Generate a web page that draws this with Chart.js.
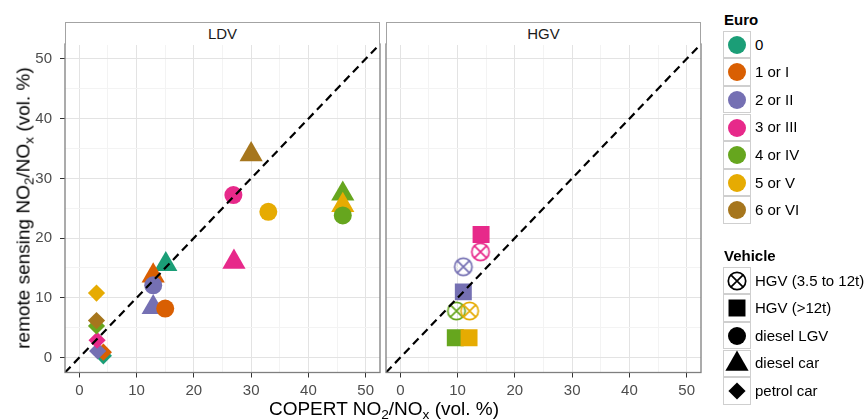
<!DOCTYPE html>
<html>
<head>
<meta charset="utf-8">
<script src="https://cdn.jsdelivr.net/npm/chart.js@4.4.0/dist/chart.umd.min.js"></script>
<style>
html,body{margin:0;padding:0;background:#fff;}
body{width:867px;height:419px;position:relative;overflow:hidden;font-family:"Liberation Sans",Arial,sans-serif;}
canvas.panel{position:absolute;top:0;}
.strip{position:absolute;top:22px;height:23px;box-sizing:border-box;border:1px solid #a3a3a3;border-bottom:none;background:#fff;font-size:15px;color:#1a1a1a;text-align:center;line-height:22px;}
.title{position:absolute;white-space:nowrap;font-size:19px;line-height:19px;color:#000;}
.title sub{font-size:0.72em;vertical-align:-0.3em;line-height:0;}
.legtitle{position:absolute;left:724px;font-size:15px;font-weight:bold;line-height:18px;color:#000;}
.key{position:absolute;left:723px;width:28px;height:27.6px;box-sizing:border-box;border:1px solid #cfcfcf;background:#fff;}
.key canvas{position:absolute;left:-1px;top:-1px;}
.leglabel{position:absolute;left:755px;font-size:15px;line-height:18px;color:#000;white-space:nowrap;}
</style>
</head>
<body>
<canvas id="ldv" class="panel" width="383" height="419" style="left:0px"></canvas>
<canvas id="hgv" class="panel" width="321" height="419" style="left:383px"></canvas>
<div id="strips"></div>
<div class="title" style="left:23px;top:208px;transform:translate(-50%,-50%) rotate(-90deg);">remote sensing NO<sub>2</sub>/NO<sub>x</sub> (vol. %)</div>
<div class="title" style="left:384px;top:408px;transform:translate(-50%,-50%);">COPERT NO<sub>2</sub>/NO<sub>x</sub> (vol. %)</div>
<div id="legend"></div>
<script>
// ---------------- data ----------------
const panelNames = ['LDV', 'HGV'];
const euroLevels = ['0', '1 or I', '2 or II', '3 or III', '4 or IV', '5 or V', '6 or VI'];
const vehicleLevels = ['HGV (3.5 to 12t)', 'HGV (>12t)', 'diesel LGV', 'diesel car', 'petrol car'];
const tickValues = [0, 10, 20, 30, 40, 50];
const minorValues = [5, 15, 25, 35, 45];
const axisLimits = [-2.5, 52.5];

// LDV panel – petrol car
const petrolEuro   = [0, 1, 2, 3, 4, 5, 6];
const petrolCopert = [4.2, 4.2, 3.2, 3.1, 3.0, 3.0, 3.0];
const petrolRemote = [0.3, 0.9, 1.1, 2.9, 5.3, 10.8, 6.2];
// LDV panel – diesel car
const dieselCarEuro   = [0, 1, 2, 3, 4, 5, 6];
const dieselCarCopert = [15.1, 12.9, 12.9, 27.0, 46.0, 46.0, 30.0];
const dieselCarRemote = [15.6, 13.7, 8.4, 16.0, 27.4, 25.5, 34.0];
// LDV panel – diesel LGV
const lgvEuro   = [1, 2, 3, 4, 5];
const lgvCopert = [15.0, 12.9, 26.9, 46.0, 33.0];
const lgvRemote = [8.2, 12.1, 27.2, 23.8, 24.4];
// HGV panel – 3.5 to 12 t
const hgvSmallEuro   = [2, 3, 4, 5];
const hgvSmallCopert = [11.0, 14.0, 9.8, 12.1];
const hgvSmallRemote = [15.2, 17.7, 7.8, 7.8];
// HGV panel – >12 t
const hgvLargeEuro   = [2, 3, 4, 5];
const hgvLargeCopert = [11.0, 14.1, 9.6, 12.0];
const hgvLargeRemote = [11.0, 20.6, 3.3, 3.3];

// ---------------- styles ----------------
const FONT = '"Liberation Sans", Arial, sans-serif';
const euroColors = ['#1B9E77', '#D95F02', '#7570B3', '#E7298A', '#66A61E', '#E6AB02', '#A6761D'];
const vehicleShapes = ['crosscircle', 'rect', 'circle', 'triangle', 'rectRot'];
const shapeRadius = {circle: 9, rect: 12, triangle: 13.4, rectRot: 8.6};

function makeCrossCircle(color) {
  const c = document.createElement('canvas');
  c.width = 24; c.height = 24;
  const g = c.getContext('2d');
  g.strokeStyle = color; g.lineWidth = 1.7;
  g.beginPath(); g.arc(12, 12, 8.7, 0, Math.PI * 2); g.stroke();
  const d = 8.7 * Math.SQRT1_2;
  g.beginPath();
  g.moveTo(12 - d, 12 - d); g.lineTo(12 + d, 12 + d);
  g.moveTo(12 + d, 12 - d); g.lineTo(12 - d, 12 + d);
  g.stroke();
  return c;
}
const crossImgs = euroColors.map(makeCrossCircle);

function pts(xs, ys) { return xs.map((x, i) => ({x: x, y: ys[i]})); }

function markerDataset(xs, ys, euro, shape, order) {
  return {
    type: 'scatter',
    data: pts(xs, ys),
    order: order,
    borderWidth: 0,
    backgroundColor: euro.map(e => euroColors[e]),
    pointBackgroundColor: euro.map(e => euroColors[e]),
    pointBorderWidth: 0,
    pointRadius: shapeRadius[shape] || 10,
    pointStyle: shape === 'crosscircle' ? euro.map(e => crossImgs[e]) : shape
  };
}
function refLine() {
  return {
    type: 'scatter', showLine: true, order: 0,
    data: pts(axisLimits, axisLimits),
    borderColor: '#000', borderWidth: 2.2, borderDash: [8, 5],
    pointRadius: 0, fill: false
  };
}

const gridValues = tickValues.concat(minorValues).sort((a, b) => a - b);
function isMajor(ctx) { return ctx.tick ? tickValues.includes(ctx.tick.value) : true; }

function makeScale(axis, showLabels, fitSize) {
  return {
    type: 'linear', min: axisLimits[0], max: axisLimits[1],
    afterBuildTicks: s => { s.ticks = gridValues.map(v => ({value: v})); },
    afterFit: s => {
      if (axis === 'x') s.height = fitSize; else s.width = fitSize;
      s.paddingLeft = 0; s.paddingRight = 0; s.paddingTop = 0; s.paddingBottom = 0;
    },
    border: {display: false},
    grid: {
      color: ctx => isMajor(ctx) ? '#e3e3e3' : '#f3f3f3',
      lineWidth: 1,
      drawTicks: showLabels,
      tickLength: 5,
      tickWidth: 1,
      tickColor: ctx => isMajor(ctx) ? '#333333' : 'rgba(0,0,0,0)'
    },
    ticks: {
      display: showLabels, autoSkip: false, maxRotation: 0, minRotation: 0,
      padding: axis === 'x' ? 4 : 8,
      color: '#4d4d4d',
      font: {size: 15, family: FONT},
      callback: v => tickValues.includes(v) ? String(v) : ''
    }
  };
}

const panelBorder = {
  id: 'panelBorder',
  afterDraw(chart) {
    const a = chart.chartArea, ctx = chart.ctx;
    ctx.save();
    ctx.strokeStyle = '#7f7f7f'; ctx.lineWidth = 1.3;
    ctx.strokeRect(a.left, a.top, a.right - a.left, a.bottom - a.top);
    ctx.restore();
  }
};

function makePanel(id, datasets, showY, yWidth) {
  return new Chart(document.getElementById(id), {
    type: 'scatter',
    data: {datasets: datasets},
    options: {
      responsive: false, animation: false, events: [],
      layout: {autoPadding: false, padding: {top: 44, right: 3, bottom: 0, left: 0}},
      plugins: {legend: {display: false}, tooltip: {enabled: false}, title: {display: false}},
      scales: {
        x: makeScale('x', true, 46.5),
        y: makeScale('y', showY, yWidth)
      }
    },
    plugins: [panelBorder]
  });
}

makePanel('ldv', [
  refLine(),
  markerDataset(lgvCopert, lgvRemote, lgvEuro, vehicleShapes[2], 1),
  markerDataset(dieselCarCopert, dieselCarRemote, dieselCarEuro, vehicleShapes[3], 2),
  markerDataset(petrolCopert, petrolRemote, petrolEuro, vehicleShapes[4], 3)
], true, 65);

makePanel('hgv', [
  refLine(),
  markerDataset(hgvSmallCopert, hgvSmallRemote, hgvSmallEuro, vehicleShapes[0], 1),
  markerDataset(hgvLargeCopert, hgvLargeRemote, hgvLargeEuro, vehicleShapes[1], 2)
], false, 3);

// ---------------- strips ----------------
const stripLefts = [65, 386];
const strips = document.getElementById('strips');
panelNames.forEach((n, i) => {
  const d = document.createElement('div');
  d.className = 'strip';
  d.style.left = stripLefts[i] + 'px';
  d.style.width = '315px';
  d.textContent = n;
  strips.appendChild(d);
});

// ---------------- legend ----------------
function drawMarker(g, shape, cx, cy, color) {
  g.fillStyle = color;
  g.beginPath();
  if (shape === 'circle') {
    g.arc(cx, cy, shapeRadius.circle, 0, Math.PI * 2); g.fill();
  } else if (shape === 'rect') {
    const s = shapeRadius.rect * Math.SQRT1_2;
    g.rect(cx - s, cy - s, 2 * s, 2 * s); g.fill();
  } else if (shape === 'triangle') {
    const r = shapeRadius.triangle;
    g.moveTo(cx, cy - r);
    g.lineTo(cx + r * Math.sin(2 * Math.PI / 3), cy - r * Math.cos(2 * Math.PI / 3));
    g.lineTo(cx + r * Math.sin(4 * Math.PI / 3), cy - r * Math.cos(4 * Math.PI / 3));
    g.closePath(); g.fill();
  } else if (shape === 'rectRot') {
    const r = shapeRadius.rectRot;
    g.moveTo(cx - r, cy); g.lineTo(cx, cy - r); g.lineTo(cx + r, cy); g.lineTo(cx, cy + r);
    g.closePath(); g.fill();
  } else if (shape === 'crosscircle') {
    const img = makeCrossCircle(color);
    g.drawImage(img, cx - 12, cy - 12);
  }
}
const legend = document.getElementById('legend');
function addTitle(text, cy) {
  const d = document.createElement('div');
  d.className = 'legtitle'; d.style.top = (cy - 9) + 'px'; d.textContent = text;
  legend.appendChild(d);
}
function addKey(top, shape, color, label) {
  const k = document.createElement('div');
  k.className = 'key'; k.style.top = top + 'px';
  const c = document.createElement('canvas');
  c.width = 28; c.height = 28;
  drawMarker(c.getContext('2d'), shape, 14, 14, color);
  k.appendChild(c);
  legend.appendChild(k);
  const l = document.createElement('div');
  l.className = 'leglabel'; l.style.top = (top + 13.8 - 9) + 'px'; l.textContent = label;
  legend.appendChild(l);
}
const keyH = 27.6;
addTitle('Euro', 20);
euroLevels.forEach((lab, i) => addKey(30.7 + i * keyH, 'circle', euroColors[i], lab));
addTitle('Vehicle', 256);
vehicleLevels.forEach((lab, i) => addKey(266.7 + i * keyH, vehicleShapes[i], '#000', lab));
</script>
</body>
</html>
